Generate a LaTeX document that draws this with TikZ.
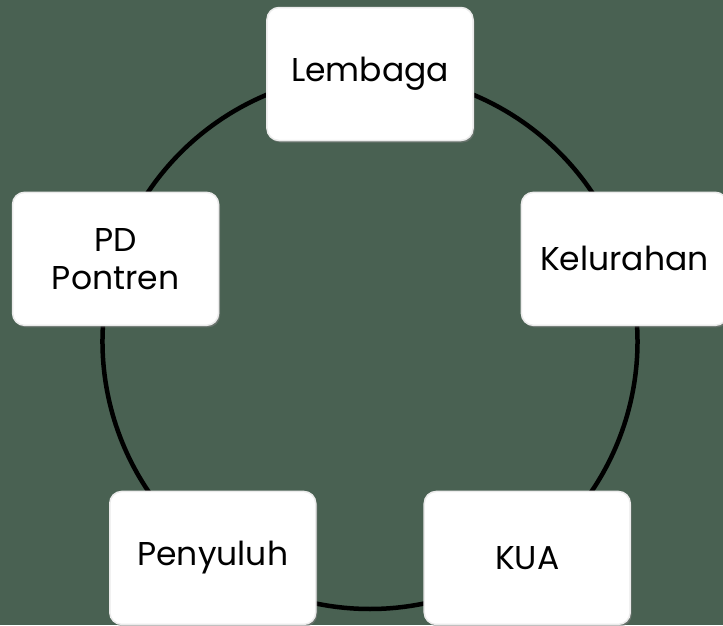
\documentclass[tikz,border=0pt]{standalone}
\usepackage{fontspec}
\setmainfont{Poppins}
\usetikzlibrary{shadows,backgrounds}
\definecolor{bggreen}{RGB}{73,97,82}
\tikzset{
  unitbox/.style={fill=white, draw=black!8, line width=1.5pt, rounded corners=12pt,
    minimum width=206pt, minimum height=133pt, align=center,
    font=\fontsize{33}{38}\selectfont,
    drop shadow={shadow xshift=1.5pt, shadow yshift=-2pt, opacity=0.55}},
  ring/.style={line width=4.5pt}
}
\begin{document}
\begin{tikzpicture}[x=1pt,y=1pt]
    \useasboundingbox (-370,-283.5) rectangle (353,341.5);
    \coordinate (O) at (0,0);

    \path (O) ++( 90:267.5) node[unitbox] (lembaga)   {Lembaga};
    \path (O) ++( 18:267.5) node[unitbox] (kelurahan) {Kelurahan};
    \path (O) ++(-54:267.5) node[unitbox] (kua)       {KUA};
    \path (O) ++(234:267.5) node[unitbox] (penyuluh)  {Penyuluh};
    \path (O) ++(162:267.5) node[unitbox] (pontren)   {PD\\Pontren};

    \begin{scope}[on background layer]
    \fill[bggreen] (-370,-283.5) rectangle (353,341.5);
    % ring joining the five boxes
    \draw[ring] (lembaga.center)   arc[start angle=90,  end angle=162, radius=267.5];
    \draw[ring] (pontren.center)   arc[start angle=162, end angle=234, radius=267.5];
    \draw[ring] (penyuluh.center)  arc[start angle=234, end angle=306, radius=267.5];
    \draw[ring] (kua.center)       arc[start angle=306, end angle=378, radius=267.5];
    \draw[ring] (kelurahan.center) arc[start angle=18,  end angle=90,  radius=267.5];
    \end{scope}
\end{tikzpicture}
\end{document}
